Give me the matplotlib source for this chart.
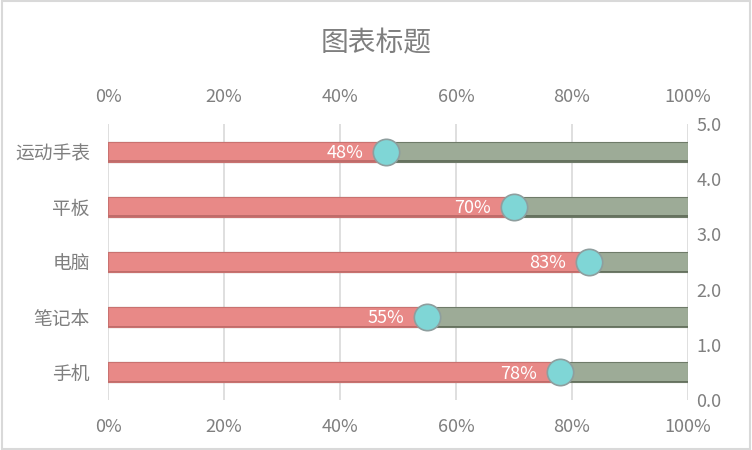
import matplotlib.pyplot as plt
from matplotlib.patches import Rectangle

plt.rcParams['font.family'] = ['Noto Sans CJK SC', 'DejaVu Sans']
plt.rcParams['font.weight'] = 'light'

categories = ["手机", "笔记本", "电脑", "平板", "运动手表"]
values = [0.78, 0.55, 0.83, 0.70, 0.48]
ypos = [0.5, 1.5, 2.5, 3.5, 4.5]
pct_ticks = [0, 0.2, 0.4, 0.6, 0.8, 1.0]
pct_labels = ["0%", "20%", "40%", "60%", "80%", "100%"]
right_ticks = [0.0, 1.0, 2.0, 3.0, 4.0, 5.0]

txt = "#7f7f7f"
fig = plt.figure(figsize=(7.52, 4.5), dpi=100)
fig.patches.append(Rectangle((0.002, 0.002), 0.996, 0.996, transform=fig.transFigure,
                             fill=False, edgecolor="#d9d9d9", linewidth=1.5))
ax = fig.add_axes([108 / 752, 1 - 400 / 450, 580 / 752, 276 / 450])

h = 0.36
# background (remaining) bars
ax.barh(ypos, [1.0] * 5, height=h, color="#9dab97", edgecolor="#6f7b69", linewidth=0.8, zorder=2)
ax.barh(ypos, values, height=h, color="#e88987", edgecolor="#c97270", linewidth=0.8, zorder=3)
# shadow line under bars
ax.barh([y - h / 2 + 0.012 for y in ypos], [1.0] * 5, height=0.025, color="#66725f", zorder=2.5)
ax.barh([y - h / 2 + 0.012 for y in ypos], values, height=0.025, color="#c06c6a", zorder=3.5)
ax.scatter(values, ypos, s=360, color="#7fd6d6", edgecolors="#8e9e9e", linewidths=1.2, zorder=5)

for v, y in zip(values, ypos):
    ax.text(v - 0.04, y - 0.02, f"{round(v * 100)}%", color="white", fontsize=13,
            ha="right", va="center", zorder=6)

ax.set_xlim(0, 1)
ax.set_ylim(0, 5)
ax.set_xticks(pct_ticks)
ax.set_xticklabels(pct_labels)
ax.set_yticks(ypos)
ax.set_yticklabels(categories)
ax.tick_params(axis="x", colors=txt, labelsize=13, length=0, pad=13,
               top=True, labeltop=True)
ax.tick_params(axis="y", colors=txt, labelsize=13.5, length=0, pad=13)
ax.xaxis.grid(True, color="#d9d9d9", linewidth=1.2, zorder=0)
ax.set_axisbelow(True)
for s in ax.spines.values():
    s.set_visible(False)

ax2 = ax.twinx()
ax2.set_ylim(0, 5)
ax2.set_yticks(right_ticks)
ax2.set_yticklabels([f"{t:.1f}" for t in right_ticks])
ax2.tick_params(axis="y", colors=txt, labelsize=13, length=0, pad=6)
for s in ax2.spines.values():
    s.set_visible(False)

fig.text(0.5, 1 - 43 / 450, "图表标题", ha="center", va="center", fontsize=20, color=txt)

fig.savefig("out.png", dpi=100)
